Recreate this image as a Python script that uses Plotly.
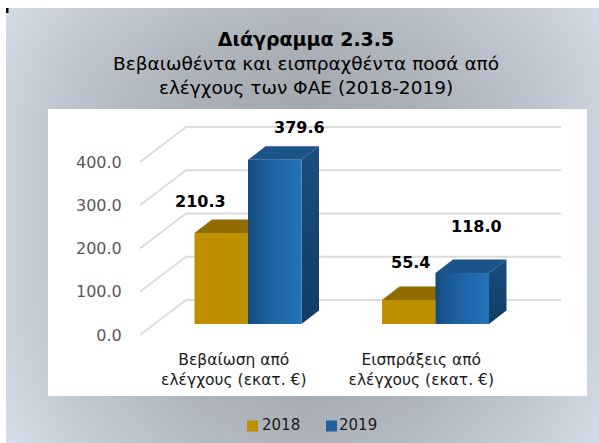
import plotly.graph_objects as go

categories = ["Βεβαίωση από<br>ελέγχους (εκατ. €)", "Εισπράξεις από<br>ελέγχους (εκατ. €)"]
series_names = ["2018", "2019"]
values_2018 = [210.3, 55.4]
values_2019 = [379.6, 118.0]
y_ticks = [0, 100, 200, 300, 400]
title_lines = ["Διάγραμμα 2.3.5", "Βεβαιωθέντα και εισπραχθέντα ποσά από", "ελέγχους των ΦΑΕ (2018-2019)"]

FONT = "DejaVu Sans"
PX_X0, PX_X1, PX_Y0, PX_Y1 = 140, 587, 335, 110
PX_PER_CAT = 187.5
PX_PER_UNIT = 0.4325
x_range = [-0.5, -0.5 + (PX_X1 - PX_X0) / PX_PER_CAT]
y_range = [0, (PX_Y0 - PX_Y1) / PX_PER_UNIT]
WALL_DX, WALL_DY = 46 / PX_PER_CAT, 35 / PX_PER_UNIT
DEPTH_DX, DEPTH_DY = 17.5 / PX_PER_CAT, 13.5 / PX_PER_UNIT
BAR_W = 53.5 / PX_PER_CAT
BAR_BASE = 11 / PX_PER_UNIT
GROUP_SHIFT = 14.25 / PX_PER_CAT

fig = go.Figure()

bg_x = [6, 80, 190, 305, 420, 530, 599]
bg_y = [9, 60, 130, 230, 330, 400, 442]
bg_z = [
    [0.05, 0.30, 0.55, 0.68, 0.55, 0.30, 0.08],
    [0.15, 0.45, 0.75, 0.88, 0.72, 0.42, 0.18],
    [0.22, 0.55, 0.85, 1.00, 0.85, 0.55, 0.22],
    [0.22, 0.55, 0.85, 1.00, 0.85, 0.55, 0.22],
    [0.20, 0.50, 0.80, 0.95, 0.80, 0.50, 0.20],
    [0.10, 0.40, 0.72, 0.88, 0.72, 0.40, 0.12],
    [0.00, 0.30, 0.60, 0.78, 0.60, 0.30, 0.05],
]
fig.add_trace(go.Heatmap(x=bg_x, y=bg_y, z=bg_z, zmin=0, zmax=1, zsmooth="best", showscale=False,
                         colorscale=[[0, "#d6dee9"], [1, "#a1a6ad"]], hoverinfo="skip",
                         xaxis="x", yaxis="y"))

def pixel_rect(x0, y0, x1, y1, color):
    fig.add_trace(go.Scatter(x=[x0, x1, x1, x0, x0], y=[y0, y0, y1, y1, y0], mode="lines",
                             line=dict(width=0), fill="toself", fillcolor=color,
                             hoverinfo="skip", showlegend=False, xaxis="x", yaxis="y"))

pixel_rect(0, 0, 599, 8, "#ffffff")
pixel_rect(0, 0, 6, 443, "#ffffff")
pixel_rect(48, 109, 587, 396, "#ffffff")
pixel_rect(6, 8, 8.5, 13, "#000000")

def poly(xs, ys, color=None, gradient=None):
    kw = dict(fillgradient=gradient) if gradient else dict(fillcolor=color)
    fig.add_trace(go.Scatter(x=xs + xs[:1], y=ys + ys[:1], mode="lines", line=dict(width=0),
                             fill="toself", hoverinfo="skip", showlegend=False,
                             xaxis="x2", yaxis="y2", **kw))

for t in y_ticks:
    x_a, x_b = -0.5, -0.5 + WALL_DX
    x_c = 1.5 + WALL_DX
    fig.add_trace(go.Scatter(x=[x_a, x_b, x_c], y=[t, t + WALL_DY, t + WALL_DY], mode="lines",
                             line=dict(color="#dcdcdc", width=2), hoverinfo="skip",
                             showlegend=False, xaxis="x2", yaxis="y2"))

def bar3d(x0, v, front=None, front_grad=None, top=None, side=None, side_grad=None):
    x1 = x0 + BAR_W
    y0, y1 = BAR_BASE, BAR_BASE + v
    poly([x1, x1 + DEPTH_DX, x1 + DEPTH_DX, x1],
         [y0, y0 + DEPTH_DY, y1 + DEPTH_DY, y1], color=side, gradient=side_grad)
    poly([x0, x1, x1 + DEPTH_DX, x0 + DEPTH_DX],
         [y1, y1, y1 + DEPTH_DY, y1 + DEPTH_DY], color=top)
    poly([x0, x1, x1, x0], [y0, y0, y1, y1], color=front, gradient=front_grad)

blue_front = dict(type="horizontal", colorscale=[[0, "#134b7e"], [0.35, "#1c5f9c"], [1, "#2473bd"]])
blue_side = dict(type="vertical", colorscale=[[0, "#123c65"], [1, "#1a4e80"]])
for i in range(2):
    c = i + GROUP_SHIFT
    bar3d(c - BAR_W, values_2018[i], front="#bf8f00", top="#8f6b00", side="#8f6b00")
    bar3d(c, values_2019[i], front_grad=blue_front, top="#1b5488", side_grad=blue_side)

legend_x = [252.5, 331.5]
legend_text_x = [262, 339]
legend_colors = ["#bf8f00", "#1f5f9e"]
fig.add_trace(go.Scatter(x=legend_x, y=[426, 426], mode="markers",
                         marker=dict(symbol="square", size=11, color=legend_colors),
                         hoverinfo="skip", showlegend=False, xaxis="x", yaxis="y"))
fig.add_trace(go.Scatter(x=legend_text_x, y=[426, 426], mode="text", text=series_names,
                         textposition="middle right", textfont=dict(family=FONT, size=15, color="#1a1a1a"),
                         hoverinfo="skip", showlegend=False, xaxis="x", yaxis="y"))

label_shift_2018 = [(-21, 32), (2, 38)]
label_shift_2019 = [(25, 32), (14, 46)]
for i in range(2):
    c = i + GROUP_SHIFT
    for xc, v, (sx, sy) in [(c - BAR_W / 2, values_2018[i], label_shift_2018[i]),
                            (c + BAR_W / 2, values_2019[i], label_shift_2019[i])]:
        fig.add_annotation(x=xc, y=BAR_BASE + v, xref="x2", yref="y2", text=f"<b>{v:.1f}</b>",
                           showarrow=False, xshift=sx, yshift=sy, xanchor="center", yanchor="middle",
                           font=dict(family=FONT, size=16, color="#000000"))

fig.add_annotation(x=306, y=62.5, xref="x", yref="y", showarrow=False, xanchor="center", yanchor="middle",
                   text=f"<b><span style='font-size:19px'>{title_lines[0]}</span></b><br>{title_lines[1]}<br>{title_lines[2]}",
                   font=dict(family=FONT, size=18.5, color="#000000"), align="center")

fig.update_layout(
    width=599, height=443, autosize=False, margin=dict(l=0, r=0, t=0, b=0, autoexpand=False),
    paper_bgcolor="#ffffff", plot_bgcolor="rgba(0,0,0,0)",
    font=dict(family=FONT, color="#000000"),
    xaxis=dict(domain=[0, 1], range=[0, 599], visible=False, fixedrange=True, automargin=False),
    yaxis=dict(domain=[0, 1], range=[443, 0], visible=False, fixedrange=True, automargin=False),
    xaxis2=dict(domain=[PX_X0 / 599, PX_X1 / 599], range=x_range, anchor="y2", automargin=False,
                tickmode="array", tickvals=[0, 1], ticktext=categories, showgrid=False, zeroline=False,
                showline=False, ticks="outside", ticklen=10, tickcolor="rgba(0,0,0,0)",
                tickfont=dict(family=FONT, size=15.5, color="#1a1a1a")),
    yaxis2=dict(domain=[1 - PX_Y0 / 443, 1 - PX_Y1 / 443], range=y_range, anchor="x2", automargin=False,
                tickmode="array", tickvals=y_ticks, ticktext=[f"{t:.1f}" for t in y_ticks],
                showgrid=False, zeroline=False, showline=False, ticks="outside", ticklen=14,
                tickcolor="rgba(0,0,0,0)", tickfont=dict(family=FONT, size=16, color="#595959")),
    showlegend=False,
)

fig.write_html("out.html", config={"displayModeBar": False},
               post_script="document.body.style.margin='0';document.body.style.overflow='hidden';")
